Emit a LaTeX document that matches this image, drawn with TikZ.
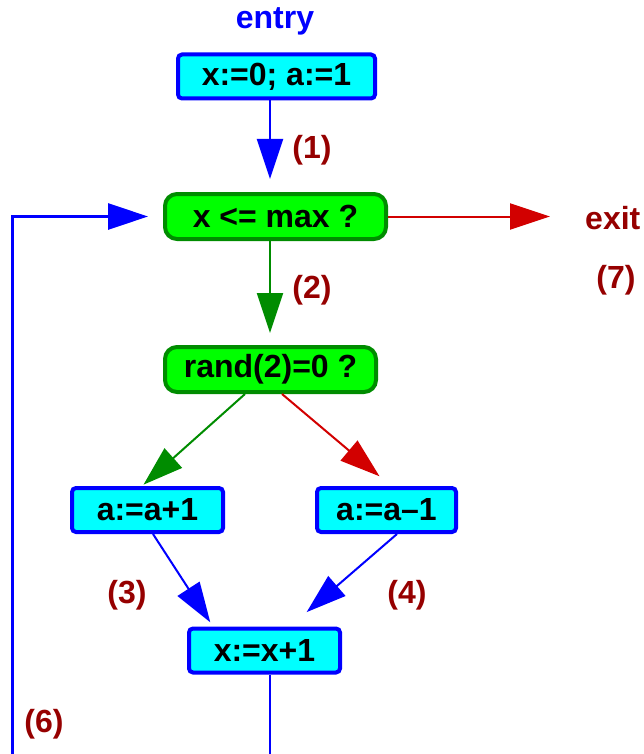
\documentclass[tikz,border=0pt]{standalone}
\usepackage{fontspec}
\setmainfont{Liberation Sans}
\usetikzlibrary{arrows.meta}
\definecolor{cyanfill}{RGB}{0,255,255}
\definecolor{bluec}{RGB}{0,0,255}
\definecolor{greenfill}{RGB}{0,255,0}
\definecolor{greenline}{RGB}{0,140,0}
\definecolor{darkred}{RGB}{150,0,0}
\definecolor{redline}{RGB}{210,0,0}
\begin{document}
\begin{tikzpicture}[x=1pt,y=-1pt,
  every node/.style={font=\fontsize{32}{38}\selectfont\bfseries, inner sep=0pt},
  actbox/.style={draw=bluec, fill=cyanfill, line width=4pt, rounded corners=4pt, minimum height=44pt},
  condbox/.style={draw=greenline, fill=greenfill, line width=4pt, rounded corners=12pt, minimum height=45pt},
  lbl/.style={text=darkred},
  tip/.style={-{Triangle[length=40pt,width=26pt]}},
  barrow/.style={tip, draw=bluec, line width=2pt},
  garrow/.style={tip, draw=greenline, line width=2pt},
  rarrow/.style={tip, draw=redline, line width=2pt}]
\useasboundingbox (0,0) rectangle (643,754);
\node[text=bluec] (entry) at (275,21) {entry};
\node[actbox, minimum width=197pt] (n1) at (276.5,76.5) {x:=0; a:=1};
\node[condbox, minimum width=221pt] (c1) at (275.5,216.5) {x <= max ?};
\node[condbox, minimum width=211pt] (c2) at (270.5,369.5) {rand(2)=0 ?};
\node[actbox, minimum width=151pt] (a1) at (147.5,510) {a:=a+1};
\node[actbox, minimum width=139pt] (a2) at (386.5,510) {a:=a\textendash 1};
\node[actbox, minimum width=151pt] (x1) at (264.5,650.5) {x:=x+1};
\node[lbl, anchor=west] (exit) at (585,218) {exit};
\node[lbl] (l1) at (312,150) {(1)};
\node[lbl] (l2) at (312,290) {(2)};
\node[lbl] (l3) at (127,595) {(3)};
\node[lbl] (l4) at (407,595) {(4)};
\node[lbl] (l6) at (44,724) {(6)};
\node[lbl] (l7) at (616,280) {(7)};
\coordinate (bot) at (270,754);
\coordinate (loopbot) at (12,754);
\coordinate (looptop) at (12,216.5);
\draw[barrow, shorten >=13pt] ([xshift=-6.5pt]n1.south) -- ([xshift=-5.5pt]c1.north);
\draw[rarrow, shorten >=35pt] (c1.east) -- (exit.west |- c1.east);
\draw[garrow, shorten >=12pt] ([xshift=-5.5pt]c1.south) -- ([xshift=-0.5pt]c2.north);
\draw[garrow, shorten >=2pt] ([xshift=-25.5pt]c2.south) -- ([xshift=-5.5pt]a1.north);
\draw[rarrow, shorten >=15pt] ([xshift=11.5pt]c2.south) -- ([xshift=4.5pt]a2.north);
\draw[barrow, shorten >=5pt] ([xshift=5.5pt]a1.south) -- ([xshift=-51.5pt]x1.north);
\draw[barrow, shorten >=22pt] ([xshift=10.5pt]a2.south) -- ([xshift=25.5pt]x1.north);
\draw[bluec, line width=2pt] ([xshift=5.5pt]x1.south) -- (bot);
\draw[barrow, line width=3pt, shorten >=15pt] (loopbot) -- (looptop) -- (c1.west);
\end{tikzpicture}
\end{document}
